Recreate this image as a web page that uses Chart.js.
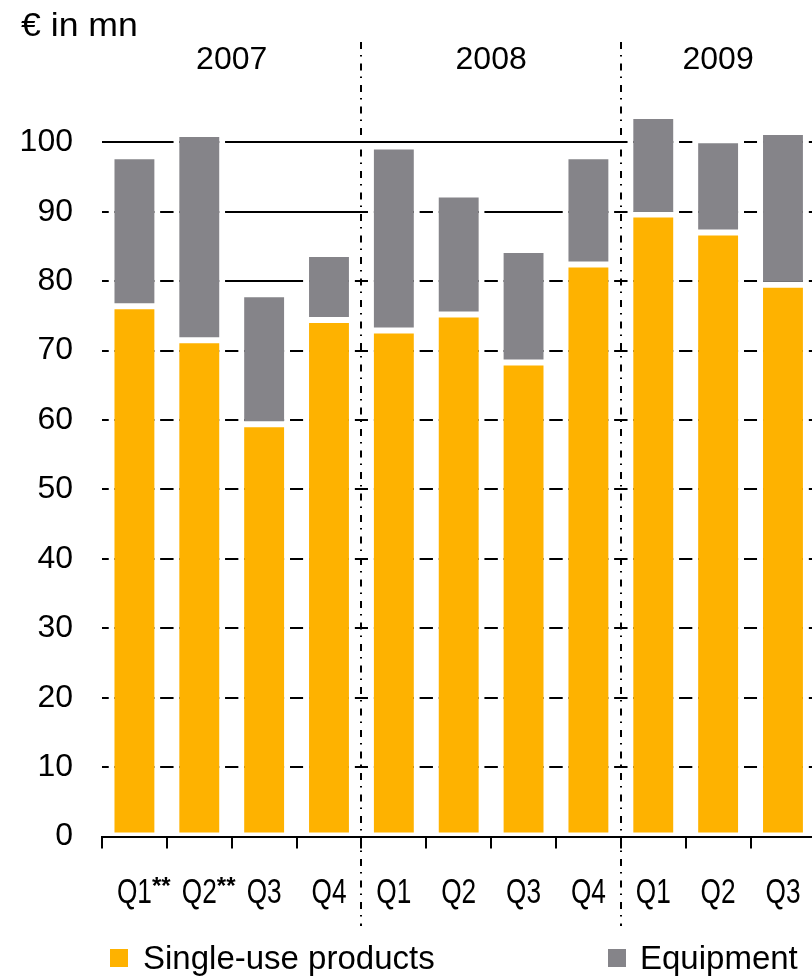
<!DOCTYPE html>
<html>
<head>
<meta charset="utf-8">
<script src="https://cdn.jsdelivr.net/npm/chart.js@4.4.1/dist/chart.umd.min.js"></script>
<style>
  html, body { margin: 0; padding: 0; background: #fff; overflow: hidden; }
  #wrap { position: relative; width: 830px; height: 977px; }
</style>
</head>
<body>
<div id="wrap"><canvas id="c" width="830" height="977"></canvas></div>
<script>
// Quarterly sales by product group, € in mn
const quarters   = ['Q1', 'Q2', 'Q3', 'Q4', 'Q1', 'Q2', 'Q3', 'Q4', 'Q1', 'Q2', 'Q3'];
const footnoted  = [true, true, false, false, false, false, false, false, false, false, false];
const years      = ['2007', '2008', '2009'];
const yearSpans  = [[0, 3], [4, 7], [8, 10]];   // first and last quarter index of each year
const singleUse  = [76.4, 71.5, 59.4, 74.4, 72.9, 75.2, 68.3, 82.4, 89.6, 87.0, 79.5];
const equipment  = [21.6, 29.7, 18.7, 9.5, 26.5, 17.3, 16.2, 15.6, 14.2, 13.3, 22.0];
const yTicks     = [0, 10, 20, 30, 40, 50, 60, 70, 80, 90, 100];
const unitLabel  = '€ in mn';
const seriesNames = ['Single-use products', 'Equipment'];

const YELLOW = '#FEB200';
const GREY = '#858489';
const SANS = '"Liberation Sans", Arial, sans-serif';

const barStyle = {
  borderColor: '#fff',
  borderWidth: { left: 6, right: 6, top: 3, bottom: 3 },
  borderSkipped: false,
  barPercentage: 0.8,
  categoryPercentage: 1.0,
  inflateAmount: 0
};

// draws text squeezed or stretched horizontally around its anchor
function fillTextScaled(ctx, text, x, y, sx) {
  ctx.save();
  ctx.translate(x, y);
  ctx.scale(sx, 1);
  ctx.fillText(text, 0, 0);
  ctx.restore();
}

// Unit caption, year headings, dash-dot year separators, quarter labels and legend
const decorations = {
  id: 'decorations',
  afterDraw(chart) {
    const { ctx } = chart;
    const x = chart.scales.x;
    ctx.save();
    ctx.fillStyle = '#000';
    ctx.textBaseline = 'alphabetic';

    ctx.font = '33px ' + SANS;
    ctx.textAlign = 'left';
    fillTextScaled(ctx, unitLabel, 21, 36, 1.08);

    ctx.font = '32px ' + SANS;
    ctx.textAlign = 'center';
    yearSpans.forEach(([a, b], i) => {
      const cx = (x.getPixelForValue(a) + x.getPixelForValue(b)) / 2;
      ctx.fillText(years[i], cx, 69);
    });

    ctx.strokeStyle = '#000';
    ctx.lineWidth = 2;
    ctx.setLineDash([7, 6, 1.5, 7]);
    yearSpans.slice(1).forEach(([a]) => {
      const dx = Math.round((x.getPixelForValue(a - 1) + x.getPixelForValue(a)) / 2);
      ctx.beginPath();
      ctx.moveTo(dx, 42);
      ctx.lineTo(dx, 926);
      ctx.stroke();
    });
    ctx.setLineDash([]);

    // quarter labels in a condensed cut, "**" beside footnoted ones
    const squeeze = 0.75;
    quarters.forEach((q, i) => {
      const cx = x.getPixelForValue(i);
      ctx.font = '35px ' + SANS;
      ctx.textAlign = 'center';
      fillTextScaled(ctx, q, cx, 903, squeeze);
      if (footnoted[i]) {
        const w = ctx.measureText(q).width * squeeze;
        ctx.font = 'bold 24px ' + SANS;
        ctx.textAlign = 'left';
        ctx.fillText('**', cx + w / 2, 894);
      }
    });

    // legend
    const items = [[110, 143, YELLOW], [608, 640, GREY]];
    ctx.font = '33px ' + SANS;
    ctx.textAlign = 'left';
    items.forEach(([bx, tx, col], i) => {
      ctx.fillStyle = col;
      ctx.fillRect(bx, 949, 18, 18);
      ctx.fillStyle = '#000';
      ctx.fillText(seriesNames[i], tx, 969);
    });
    ctx.restore();
  }
};

new Chart(document.getElementById('c'), {
  type: 'bar',
  data: {
    labels: quarters,
    datasets: [
      Object.assign({ label: seriesNames[0], data: singleUse, backgroundColor: YELLOW }, barStyle),
      Object.assign({ label: seriesNames[1], data: equipment, backgroundColor: GREY }, barStyle)
    ]
  },
  options: {
    responsive: false,
    animation: false,
    layout: { padding: { top: 72.9, right: 14.6, bottom: 0, left: 0 } },
    plugins: { legend: { display: false }, tooltip: { enabled: false } },
    scales: {
      x: {
        stacked: true,
        offset: true,
        z: 1,
        grid: { drawOnChartArea: false, drawTicks: true, tickLength: 12, color: '#000', lineWidth: 2, offset: true },
        border: { display: true, color: '#000', width: 2 },
        ticks: { display: false },
        afterFit(s) { s.height = 140.4; }
      },
      y: {
        stacked: true,
        min: 0,
        max: 110,
        afterBuildTicks(s) { s.ticks = yTicks.map(v => ({ value: v })); },
        grid: { color: '#000', lineWidth: 2, drawTicks: false },
        border: { display: false },
        ticks: { color: '#000', font: { family: SANS, size: 32 }, padding: 29 },
        afterFit(s) { s.width = 102; }
      }
    }
  },
  plugins: [decorations]
});
</script>
</body>
</html>
